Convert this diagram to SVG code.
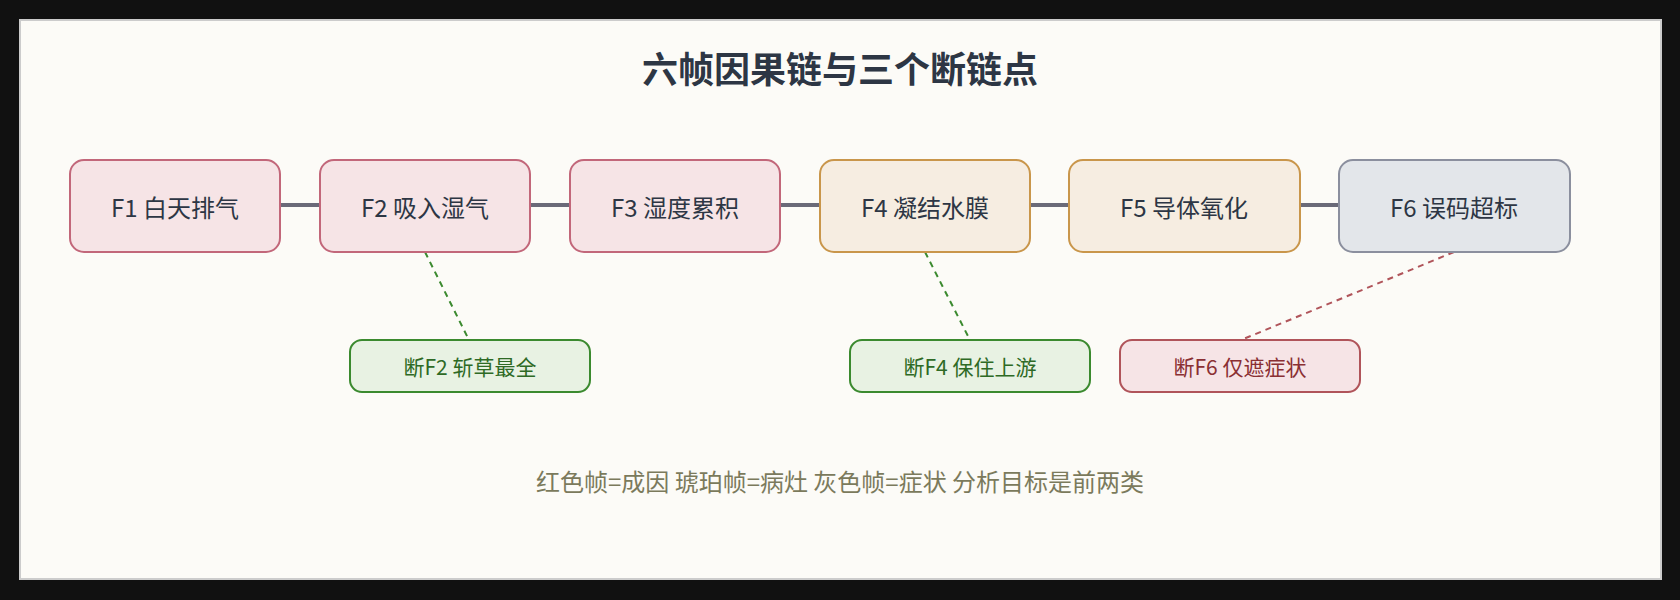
<svg xmlns="http://www.w3.org/2000/svg" width="1680" height="600" viewBox="0 0 1680 600">
<style>
text{font-family:"Noto Sans CJK SC","Noto Sans",sans-serif;text-anchor:middle;dominant-baseline:central}
.n{stroke-width:2}
.red{fill:#f6e4e6;stroke:#c2677a}
.amb{fill:#f6ede1;stroke:#c9964b}
.gry{fill:#e3e6ea;stroke:#8b8f9e}
.nt{font-size:24px;fill:#2d3644}
.g{fill:#e8f2e3;stroke:#3b8a2f}
.gt{font-size:21px;fill:#2e6a25}
.r{fill:#f6e4e6;stroke:#b0545a}
.rt{font-size:21px;fill:#8a2f33}
</style>
<rect width="1680" height="600" fill="#111"/>
<rect x="20" y="20" width="1641" height="559" fill="#fcfbf7" stroke="#ccc" stroke-width="2"/>
<text x="840" y="67" font-size="36" font-weight="bold" fill="#2d3644">六帧因果链与三个断链点</text>
<g id="connectors" fill="none">
<g stroke="#6a6a78" stroke-width="4">
<line x1="280" y1="205" x2="320" y2="205"/><line x1="530" y1="205" x2="570" y2="205"/>
<line x1="780" y1="205" x2="820" y2="205"/><line x1="1030" y1="205" x2="1069" y2="205"/>
<line x1="1300" y1="205" x2="1339" y2="205"/></g>
<g stroke-width="2" stroke-dasharray="6,5">
<line x1="425" y1="252" x2="469" y2="340" stroke="#3b8a2f"/>
<line x1="925" y1="252" x2="970" y2="340" stroke="#3b8a2f"/>
<line x1="1454" y1="252" x2="1241" y2="340" stroke="#b0545a"/></g>
</g>
<g id="f1"><rect class="n red" x="70" y="160" width="210" height="92" rx="14"/><text class="nt" x="175" y="206">F1 白天排气</text></g>
<g id="f2"><rect class="n red" x="320" y="160" width="210" height="92" rx="14"/><text class="nt" x="425" y="206">F2 吸入湿气</text></g>
<g id="f3"><rect class="n red" x="570" y="160" width="210" height="92" rx="14"/><text class="nt" x="675" y="206">F3 湿度累积</text></g>
<g id="f4"><rect class="n amb" x="820" y="160" width="210" height="92" rx="14"/><text class="nt" x="925" y="206">F4 凝结水膜</text></g>
<g id="f5"><rect class="n amb" x="1069" y="160" width="231" height="92" rx="14"/><text class="nt" x="1184" y="206">F5 导体氧化</text></g>
<g id="f6"><rect class="n gry" x="1339" y="160" width="231" height="92" rx="14"/><text class="nt" x="1454" y="206">F6 误码超标</text></g>
<g id="b2"><rect class="n g" x="350" y="340" width="240" height="52" rx="12"/><text class="gt" x="470" y="366">断F2 斩草最全</text></g>
<g id="b4"><rect class="n g" x="850" y="340" width="240" height="52" rx="12"/><text class="gt" x="970" y="366">断F4 保住上游</text></g>
<g id="b6"><rect class="n r" x="1120" y="340" width="240" height="52" rx="12"/><text class="rt" x="1240" y="366">断F6 仅遮症状</text></g>
<text x="840" y="480" font-size="24" fill="#7b7a5c">红色帧=成因 琥珀帧=病灶 灰色帧=症状 分析目标是前两类</text>
</svg>
